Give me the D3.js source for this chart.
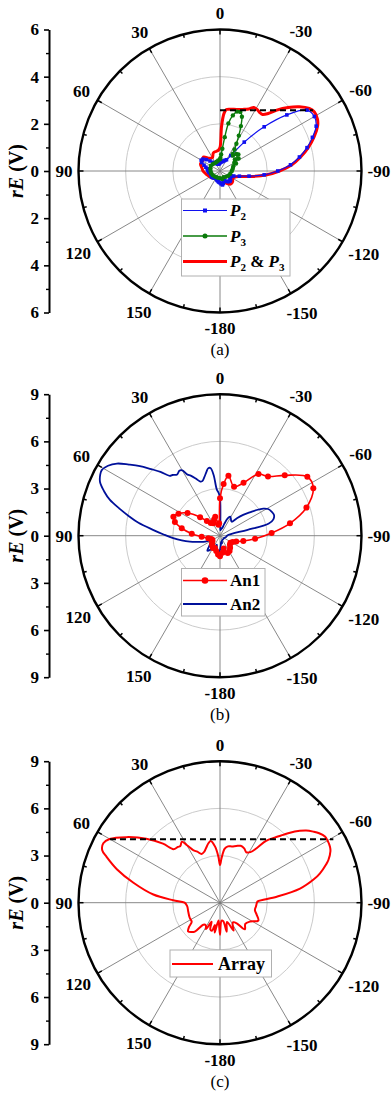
<!DOCTYPE html>
<html>
<head>
<meta charset="utf-8">
<script src="https://cdn.jsdelivr.net/npm/d3@7"></script>
<style>
  body { margin: 0; background: #fff; }
  svg { display: block; }
</style>
</head>
<body>
<div id="chart"></div>
<script>
// ---- panel (a): P2, P3 and P2 & P3 (angle in degrees, rE in V) ----
const p2Angles = [-180,-175,-170,-165,-160,-155,-150,-145,-140,-135,-130,-125,-120,-115,-110,-105,-100,-95,-90,-85,-80,-75,-70,-65,-60,-55,-50,-45,-40,-35,-30,-25,-20,-15,-10,-5,0,5,10,15,20,25,30,35,40,45,50,55,60,65,70,75,80,85,90,95,100,105,110,115,120,125,130,135,140,145,150,155,160,165,170,175];
const p2Values = [0.50,0.55,0.60,0.55,0.45,0.45,0.50,0.55,0.58,0.60,0.58,0.52,0.50,0.52,0.62,0.85,1.25,1.88,2.45,3.00,3.42,3.82,4.17,4.50,4.62,4.50,3.70,2.65,1.60,0.80,0.55,0.50,0.45,0.42,0.40,0.38,0.35,0.32,0.30,0.30,0.32,0.35,0.38,0.42,0.48,0.60,0.75,0.88,0.92,0.85,0.72,0.62,0.55,0.52,0.50,0.48,0.45,0.42,0.40,0.40,0.42,0.43,0.42,0.40,0.38,0.36,0.35,0.36,0.40,0.42,0.45,0.48];

const p3Angles = [-180,-165,-150,-135,-120,-105,-90,-80,-70,-65,-60,-56,-52,-48,-44,-40,-37,-34,-31,-28,-25,-22,-19,-16,-13,-10,-8,-6,-4,-2,0,10,20,30,45,60,75,90,105,120,135,150,165];
const p3Values = [0.30,0.35,0.30,0.35,0.40,0.45,0.50,0.55,0.60,0.75,0.70,0.95,0.80,1.05,1.00,0.85,0.90,1.10,1.35,1.70,2.10,2.48,2.65,2.62,2.42,2.05,1.45,0.95,0.70,0.55,0.50,0.45,0.42,0.40,0.42,0.45,0.42,0.40,0.38,0.35,0.32,0.30,0.30];

const p23Angles = [-180,-170,-160,-150,-140,-130,-120,-110,-105,-100,-95,-90,-85,-80,-75,-70,-65,-62,-58,-55,-51,-47,-43,-40,-37,-34,-31,-28,-25,-20,-15,-10,-6,-4,-2,0,5,10,20,30,40,50,60,70,80,90,100,110,120,130,140,150,160,170];
const p23Values = [0.50,0.55,0.50,0.62,0.72,0.70,0.62,0.72,0.92,1.33,1.95,2.52,3.06,3.48,3.88,4.25,4.57,4.68,4.72,4.62,4.33,3.95,3.53,3.18,3.00,3.00,3.05,3.05,2.90,2.78,2.70,2.66,2.62,2.45,1.90,1.00,0.88,0.85,0.82,0.65,0.70,0.92,0.85,0.88,0.78,0.72,0.62,0.55,0.50,0.45,0.40,0.38,0.40,0.45];

const dashAAngles = [0, -56.8];
const dashAValues = [2.58, 4.71];

// ---- panel (b): An1, An2 ----
const an1Angles = [-180,-172,-164,-156,-148,-140,-132,-124,-116,-110,-103,-95,-87,-80,-72,-63,-56,-47,-39,-32,-24,-16,-8,-4,0,4,8,14,20,28,36,42,47,55,62,68,73,79,86,93,102,110,118,126,134,142,150,158,166,174];
const an1Values = [1.30,1.10,0.85,1.20,1.15,1.00,0.85,0.80,0.90,1.10,1.52,2.24,3.29,4.52,5.78,6.66,6.70,5.63,4.85,4.62,3.68,3.24,3.85,3.30,2.38,0.80,0.70,1.25,1.10,0.90,1.00,1.25,1.73,2.52,2.99,3.20,3.00,2.48,1.80,1.17,0.76,0.60,0.55,0.60,0.70,0.80,0.90,0.85,1.00,1.20];

const an2Angles = [-180,-175,-170,-165,-160,-150,-140,-130,-120,-110,-100,-90,-84,-80,-78,-76,-73,-69,-65,-61,-58,-55,-52,-48,-44,-40,-36,-32,-28,-24,-20,-16,-12,-8,-4,-2,0,2,4,6,8,10,12,15,18,20,23,26,28,30,32,35,38,40,43,46,49,52,55,58,61,63,66,69,72,75,78,81,85,89,93,97,101,105,110,115,120,125,130,135,140,145,150,155,160,165,170,175];
const an2Values = [0.90,0.60,0.40,0.50,0.35,0.30,0.30,0.30,0.30,0.35,0.40,0.45,0.55,0.80,1.80,3.20,3.55,3.68,3.62,3.50,3.25,2.85,2.40,1.98,1.55,1.16,1.20,1.30,1.37,1.20,0.80,0.50,0.45,0.40,0.35,0.60,2.40,2.75,2.95,3.88,4.35,4.35,4.15,3.85,3.65,3.66,3.95,4.25,4.40,4.80,4.88,4.75,4.90,4.97,5.55,6.10,6.75,7.35,8.00,8.40,8.60,8.55,8.35,7.90,7.36,6.60,5.90,5.25,4.28,3.55,2.98,2.45,1.95,1.50,1.13,0.70,0.50,0.60,0.80,1.00,1.25,1.10,0.75,1.00,0.60,0.80,1.10,1.30];

// ---- panel (c): Array ----
const arrAngles = [-180,-175,-170,-167,-160,-154,-150,-146,-141,-137,-130,-122,-115,-108,-102,-96,-90,-88,-84,-80,-76,-73.6,-70,-68.5,-65,-63,-60,-57.8,-55,-52.7,-50,-48,-45,-43,-40,-36.7,-34,-31,-27.6,-24,-20,-16,-12,-8,-5,-2,0,2,5,8.6,11,13.4,17,20.6,24,27,30,32,35,37,41,44,49,55,60,63,66,68,72,77,83,87,90,96,106,116,124,128,132,136,139,143,148,152,156,160,164,167,170,175,178];
const arrValues = [2.04,1.15,1.20,1.89,1.30,1.97,1.60,1.50,1.69,2.32,2.10,2.26,2.69,2.45,2.27,2.30,2.35,2.40,3.63,5.17,6.15,6.63,7.20,7.41,7.75,7.85,7.90,7.89,7.70,7.46,7.15,6.83,6.30,5.90,5.40,4.90,4.20,3.75,3.62,3.78,3.85,3.75,3.66,3.62,3.45,2.83,2.40,2.93,3.58,3.97,3.85,3.66,3.40,3.31,3.55,3.76,4.24,4.58,4.40,4.44,4.51,5.22,6.21,7.27,8.11,8.33,8.20,7.78,6.90,5.65,4.27,2.98,2.25,2.10,2.10,2.15,2.17,2.50,2.73,2.60,2.44,1.75,1.70,1.90,1.32,1.80,1.85,1.45,1.93,1.14,1.50];

const dashCAngles = [60, -60.8];
const dashCValues = [8.08, 8.26];

// ---- tick labels ----
const angleTicks = [0, 30, 60, 90, 120, 150, -180, -150, -120, -90, -60, -30];
const radialTicksA = [-6, -4, -2, 0, 2, 4, 6];
const radialMinorA = [-5, -3, -1, 1, 3, 5];
const radialTicksB = [-9, -6, -3, 0, 3, 6, 9];
const radialMinorB = [-7.5, -4.5, -1.5, 1.5, 4.5, 7.5];

const FONT = '"Liberation Serif", "Times New Roman", serif';
const width = 391, height = 1100;

const svg = d3.select("#chart").append("svg")
  .attr("width", width)
  .attr("height", height)
  .attr("font-family", FONT);

function drawPanel(cfg) {
  const cx = 220, cy = cfg.cy, R = 141.5, max = cfg.max;
  const g = svg.append("g");
  const r = d3.scaleLinear().domain([0, max]).range([0, R]);
  // positive angles run counter-clockwise, 0 at the top
  const ang = d3.scaleLinear().domain([0, 360]).range([0, -2 * Math.PI]);
  const pt = (t, v) => [cx + r(v) * Math.sin(ang(t)), cy - r(v) * Math.cos(ang(t))];

  // grid circles
  g.selectAll(".grid").data(cfg.grid).join("circle")
    .attr("cx", cx).attr("cy", cy).attr("r", d => r(d))
    .attr("fill", "none").attr("stroke", "#c4c4c4").attr("stroke-width", 0.9);

  // spokes
  g.selectAll(".spoke").data(d3.range(0, 360, 30)).join("line")
    .attr("x1", cx).attr("y1", cy)
    .attr("x2", d => pt(d, max)[0]).attr("y2", d => pt(d, max)[1])
    .attr("stroke", "#7a7a7a").attr("stroke-width", 0.9);

  // outer ring and its ticks
  g.append("circle").attr("cx", cx).attr("cy", cy).attr("r", R)
    .attr("fill", "none").attr("stroke", "#000").attr("stroke-width", 2.4);
  g.selectAll(".rtick").data(d3.range(0, 360, 15)).join("line")
    .attr("x1", d => cx + R * Math.sin(ang(d)))
    .attr("y1", d => cy - R * Math.cos(ang(d)))
    .attr("x2", d => cx + (R - (d % 30 === 0 ? 5 : 3.5)) * Math.sin(ang(d)))
    .attr("y2", d => cy - (R - (d % 30 === 0 ? 5 : 3.5)) * Math.cos(ang(d)))
    .attr("stroke", "#000").attr("stroke-width", 1.5);

  // angle labels
  angleTicks.forEach(t => {
    const txt = g.append("text")
      .attr("text-anchor", "middle").attr("dy", "0.35em")
      .attr("font-size", 17).attr("font-weight", "bold")
      .text(t);
    const w = txt.node().getComputedTextLength();
    const a = ang(t);
    const dist = R + 6 + (w / 2) * Math.abs(Math.sin(a)) + 10 * Math.abs(Math.cos(a));
    txt.attr("x", cx + dist * Math.sin(a)).attr("y", cy - dist * Math.cos(a));
  });

  // series
  cfg.series.forEach(s => {
    const pts = d3.zip(s.angles, s.values);
    const line = d3.lineRadial()
      .angle(d => ang(d[0]))
      .radius(d => r(d[1]))
      .curve(d3.curveCatmullRomClosed.alpha(0.5));
    g.append("path").datum(pts)
      .attr("transform", `translate(${cx},${cy})`)
      .attr("d", line)
      .attr("fill", "none").attr("stroke", s.color)
      .attr("stroke-width", s.width).attr("stroke-linejoin", "round");
    if (s.marker === "square") {
      g.selectAll(null).data(pts).join("rect")
        .attr("x", d => pt(d[0], d[1])[0] - 1.8).attr("y", d => pt(d[0], d[1])[1] - 1.8)
        .attr("width", 3.6).attr("height", 3.6).attr("fill", s.color);
    } else if (s.marker === "circle") {
      g.selectAll(null).data(pts).join("circle")
        .attr("cx", d => pt(d[0], d[1])[0]).attr("cy", d => pt(d[0], d[1])[1])
        .attr("r", s.markerSize).attr("fill", s.color);
    }
  });

  // dashed reference line
  if (cfg.dash) {
    const a = pt(cfg.dash.angles[0], cfg.dash.values[0]);
    const b = pt(cfg.dash.angles[1], cfg.dash.values[1]);
    g.append("line").attr("x1", a[0]).attr("y1", a[1]).attr("x2", b[0]).attr("y2", b[1])
      .attr("stroke", "#000").attr("stroke-width", 2).attr("stroke-dasharray", "6,4");
  }

  // radial scale on the left
  const y = d3.scaleLinear().domain([-max, max]).range([cy + R, cy - R]);
  const ax = g.append("g").attr("transform", "translate(49,0)")
    .call(d3.axisLeft(y).tickValues(cfg.major).tickSize(5).tickSizeOuter(0)
      .tickPadding(5).tickFormat(d => Math.abs(d)));
  ax.attr("font-family", FONT).attr("font-size", 17).attr("font-weight", "bold");
  ax.select(".domain").attr("stroke-width", 2);
  ax.selectAll(".tick line").attr("stroke-width", 1.6);
  const axm = g.append("g").attr("transform", "translate(49,0)")
    .call(d3.axisLeft(y).tickValues(cfg.minor).tickSize(3).tickSizeOuter(0).tickFormat(""));
  axm.select(".domain").remove();
  axm.selectAll(".tick line").attr("stroke-width", 1.4);

  // axis title
  const title = g.append("text")
    .attr("transform", `translate(23,${cy}) rotate(-90)`)
    .attr("text-anchor", "middle").attr("font-size", 20).attr("font-weight", "bold");
  title.append("tspan").attr("font-style", "italic").text("rE");
  title.append("tspan").text(" (V)");

  // legend
  const L = cfg.legend;
  g.append("rect").attr("x", L.x).attr("y", L.y).attr("width", L.w).attr("height", L.h)
    .attr("fill", "#fff").attr("stroke", "#b0b0b0").attr("stroke-width", 1);
  L.items.forEach((it, i) => {
    const s = cfg.series.find(q => q.key === it.key);
    const yy = L.rowY[i];
    g.append("line").attr("x1", L.x1).attr("x2", L.x2).attr("y1", yy).attr("y2", yy)
      .attr("stroke", s.color).attr("stroke-width", it.lw || s.width);
    const mx = (L.x1 + L.x2) / 2;
    if (s.marker === "square") {
      g.append("rect").attr("x", mx - 2).attr("y", yy - 2).attr("width", 4).attr("height", 4).attr("fill", s.color);
    } else if (s.marker === "circle") {
      g.append("circle").attr("cx", mx).attr("cy", yy).attr("r", s.markerSize + 0.3).attr("fill", s.color);
    }
    const t = g.append("text").attr("x", L.tx).attr("y", yy).attr("dy", "0.35em")
      .attr("font-size", L.fs).attr("font-weight", "bold");
    it.parts.forEach(p => {
      const sp = t.append("tspan").text(p.t);
      if (p.i) sp.attr("font-style", "italic");
      if (p.sub) sp.attr("font-size", L.fs * 0.65).attr("dy", 4);
      if (p.up) sp.attr("dy", -4);
    });
  });

  // caption
  g.append("text").attr("x", cx).attr("y", cfg.captionY).attr("text-anchor", "middle")
    .attr("font-size", 17).text(cfg.caption);
}

drawPanel({
  cy: 171, max: 6, grid: [2, 4], major: radialTicksA, minor: radialMinorA,
  caption: "(a)", captionY: 355,
  dash: { angles: dashAAngles, values: dashAValues },
  series: [
    { key: "p23", angles: p23Angles, values: p23Values, color: "#ff0000", width: 3 },
    { key: "p2", angles: p2Angles, values: p2Values, color: "#1010f0", width: 1.2, marker: "square" },
    { key: "p3", angles: p3Angles, values: p3Values, color: "#0a7a0a", width: 1.4, marker: "circle", markerSize: 2.2 }
  ],
  legend: {
    x: 181.5, y: 199, w: 108.5, h: 77, x1: 183, x2: 227, tx: 230, fs: 17,
    rowY: [210.5, 236, 261.5],
    items: [
      { key: "p2", parts: [{ t: "P", i: true }, { t: "2", sub: true }] },
      { key: "p3", parts: [{ t: "P", i: true }, { t: "3", sub: true }] },
      { key: "p23", lw: 3.2, parts: [{ t: "P", i: true }, { t: "2", sub: true }, { t: " & ", up: true }, { t: "P", i: true }, { t: "3", sub: true }] }
    ]
  }
});

drawPanel({
  cy: 535.7, max: 9, grid: [3, 6], major: radialTicksB, minor: radialMinorB,
  caption: "(b)", captionY: 720,
  series: [
    { key: "an2", angles: an2Angles, values: an2Values, color: "#00109a", width: 1.8 },
    { key: "an1", angles: an1Angles, values: an1Values, color: "#ff0000", width: 1.6, marker: "circle", markerSize: 3 }
  ],
  legend: {
    x: 181.5, y: 568.5, w: 83.5, h: 47.5, x1: 183, x2: 227, tx: 230, fs: 17,
    rowY: [580.5, 604],
    items: [
      { key: "an1", parts: [{ t: "An1" }] },
      { key: "an2", parts: [{ t: "An2" }] }
    ]
  }
});

drawPanel({
  cy: 902.7, max: 9, grid: [3, 6], major: radialTicksB, minor: radialMinorB,
  caption: "(c)", captionY: 1087,
  dash: { angles: dashCAngles, values: dashCValues },
  series: [
    { key: "arr", angles: arrAngles, values: arrValues, color: "#ff0000", width: 2 }
  ],
  legend: {
    x: 170, y: 950, w: 101.5, h: 27, x1: 172, x2: 213, tx: 218, fs: 18,
    rowY: [964],
    items: [{ key: "arr", parts: [{ t: "Array" }] }]
  }
});
</script>
</body>
</html>
